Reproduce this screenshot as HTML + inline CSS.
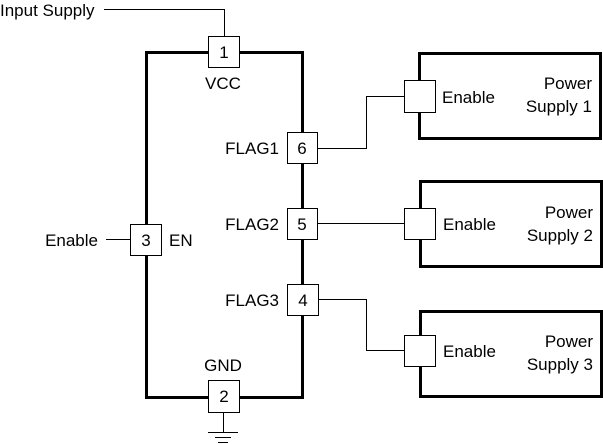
<!DOCTYPE html>
<html><head><meta charset="utf-8"><style>
html,body{margin:0;padding:0;background:#fff;}
svg{display:block;}
text{font-family:"Liberation Sans",Arial,sans-serif;font-size:17px;fill:#000;}
</style></head><body>
<svg width="603" height="444" viewBox="0 0 603 444">
<g fill="none" stroke="#000">
<rect x="146.5" y="52.5" width="156" height="345" stroke-width="3"/>
<rect x="419.5" y="53.5" width="181" height="85" stroke-width="3"/>
<rect x="420.5" y="181.5" width="181" height="85" stroke-width="3"/>
<rect x="420.5" y="311.5" width="181" height="85" stroke-width="3"/>
<g stroke-width="1">
<polyline points="104,9.5 224.5,9.5 224.5,36"/>
<polyline points="317,148.5 366.5,148.5 366.5,96.5 404,96.5"/>
<line x1="318" y1="223.5" x2="404" y2="223.5"/>
<polyline points="318,299.5 366.5,299.5 366.5,350.5 404,350.5"/>
<line x1="106" y1="239.5" x2="130" y2="239.5"/>
<line x1="223.5" y1="412" x2="223.5" y2="432"/>
<line x1="208" y1="432.5" x2="238" y2="432.5"/>
<line x1="215" y1="437.5" x2="231" y2="437.5"/>
<line x1="218" y1="442.5" x2="228" y2="442.5"/>
</g>
<g stroke-width="1" fill="#fff">
<rect x="208.5" y="36.5" width="31" height="31"/>
<rect x="287.5" y="132.5" width="30" height="31"/>
<rect x="287.5" y="208.5" width="30" height="31"/>
<rect x="287.5" y="284.5" width="31" height="31"/>
<rect x="208.5" y="380.5" width="31" height="32"/>
<rect x="130.5" y="224.5" width="31" height="31"/>
<rect x="404.5" y="80.5" width="31" height="32"/>
<rect x="404.5" y="208.5" width="31" height="31"/>
<rect x="404.5" y="335.5" width="31" height="31"/>
</g>
</g>
<text x="0" y="16">Input Supply</text>
<text x="224" y="58" text-anchor="middle">1</text>
<text x="223" y="89" text-anchor="middle">VCC</text>
<text x="302" y="154" text-anchor="middle">6</text>
<text x="279" y="154" text-anchor="end">FLAG1</text>
<text x="302" y="230" text-anchor="middle">5</text>
<text x="279" y="230" text-anchor="end">FLAG2</text>
<text x="303" y="306" text-anchor="middle">4</text>
<text x="279" y="306" text-anchor="end">FLAG3</text>
<text x="224" y="402" text-anchor="middle">2</text>
<text x="223" y="371" text-anchor="middle">GND</text>
<text x="146" y="246" text-anchor="middle">3</text>
<text x="169" y="246">EN</text>
<text x="98" y="246" text-anchor="end">Enable</text>
<text x="442" y="103">Enable</text>
<text x="443" y="230">Enable</text>
<text x="443" y="357">Enable</text>
<text x="592" y="89" text-anchor="end">Power</text>
<text x="592" y="112" text-anchor="end">Supply 1</text>
<text x="593" y="218" text-anchor="end">Power</text>
<text x="593" y="241" text-anchor="end">Supply 2</text>
<text x="593" y="347" text-anchor="end">Power</text>
<text x="593" y="370" text-anchor="end">Supply 3</text>
</svg>
</body></html>
